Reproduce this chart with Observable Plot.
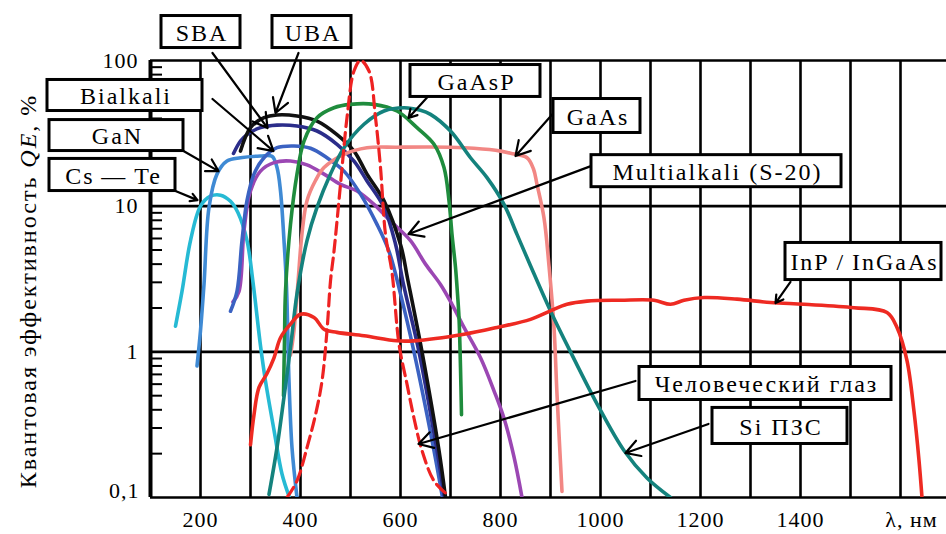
<!DOCTYPE html>
<html><head><meta charset="utf-8">
<script src="https://cdn.jsdelivr.net/npm/d3@7"></script>
<script src="https://cdn.jsdelivr.net/npm/@observablehq/plot@0.6"></script>
<style>body{margin:0;background:#fff}</style>
</head><body><div id="chart"></div>
<script>
// ---- data: [wavelength nm, QE %] ----
const csTe = [[150,1.5],[163,2.6],[180,5.8],[200,10],[220,11.7],[240,11.9],[260,10.8],[275,9],[293,5.8],[305,3],[320,1.1],[330,0.63],[347,0.29],[363,0.145],[378,0.1]];
const gaN = [[193,0.8],[200,1.4],[207,2.9],[217,9.8],[233,16.6],[253,20.4],[280,21.5],[320,22.1],[343,22],[353,18.4],[360,12.7],[367,5.8],[372,2.8],[377,0.63],[383,0.22],[393,0.1]];
const bialkali = [[260,1.9],[273,2.6],[283,5.8],[293,10.9],[307,16.6],[327,21.5],[353,25.2],[387,25.9],[420,25],[453,21.5],[487,17.4],[520,12.1],[553,7.5],[577,4.9],[600,2.5],[627,1.0],[667,0.21],[684,0.1]];
const sba = [[266,23],[280,28],[293,31],[320,34.6],[353,36],[393,35.5],[433,32.8],[473,26.6],[507,20.4],[533,14.9],[567,9.8],[590,5.5],[606,2.9],[637,1.0],[673,0.21],[688,0.1]];
const uba = [[280,23.9],[300,34.6],[327,40.5],[353,42.3],[393,41.6],[433,38.4],[473,31],[507,23.9],[533,16.6],[567,10.9],[601,5.3],[614,3.2],[643,1.0],[677,0.21],[690,0.1]];
const multialkali = [[265,2.2],[277,2.6],[287,6.8],[300,12.7],[320,17.4],[347,19.9],[380,20.4],[413,19.2],[447,16.6],[480,14.1],[513,12.7],[547,10.3],[580,7.9],[620,5.8],[650,4.0],[680,2.9],[703,2.12],[727,1.47],[760,0.91],[787,0.54],[807,0.35],[827,0.19],[843,0.1]];
const gaAsP = [[366,0.5],[368,1.2],[370,2.6],[380,7.5],[393,16.6],[407,28],[433,40.5],[467,47.4],[500,50],[547,50],[593,45],[633,34.6],[667,26.6],[687,18.4],[697,10.9],[703,6.4],[710,3.8],[714,2.5],[717,1.72],[720,0.78],[722,0.37]];
const siCCD = [[337,0.105],[353,0.22],[367,0.49],[380,1.07],[393,2.5],[413,5.8],[433,9.8],[460,16.6],[487,25.2],[527,36.5],[567,45],[607,47.4],[640,45.5],[660,42.7],[700,32.8],[740,21.5],[773,15.7],[807,10.3],[833,6.4],[860,3.9],[900,1.91],[940,1.0],[993,0.44],[1047,0.21],[1093,0.136],[1140,0.1]];
const gaAs = [[380,0.95],[387,1.4],[395,3],[403,6.5],[413,10.9],[430,15],[447,18.4],[487,22.7],[533,25.2],[593,25.4],[660,25.5],[727,25.2],[790,24.2],[820,23.1],[853,21.5],[866,18],[873,14.1],[887,8.3],[897,3.9],[907,1.47],[913,0.51],[923,0.11]];
const humanEye = [[373,0.1],[393,0.13],[413,0.22],[430,0.37],[443,0.63],[453,1.4],[460,3.07],[467,4.9],[480,14.1],[493,40.5],[507,84.7],[520,100],[537,84.7],[550,40.5],[560,18.4],[570,6.4],[583,3.5],[597,1.13],[613,0.6],[627,0.35],[643,0.21],[667,0.13],[693,0.105]];
const inGaAs = [[300,0.23],[307,0.37],[317,0.57],[333,0.71],[347,0.91],[360,1.25],[380,1.55],[400,1.81],[427,1.72],[447,1.43],[473,1.36],[527,1.29],[593,1.19],[627,1.19],[727,1.32],[793,1.47],[860,1.67],[900,1.91],[933,2.12],[973,2.23],[1040,2.26],[1107,2.26],[1140,2.12],[1167,2.26],[1207,2.36],[1273,2.3],[1340,2.18],[1407,2.12],[1507,2.01],[1573,1.86],[1593,1.47],[1613,0.87],[1627,0.39],[1637,0.18],[1643,0.1]];

// axes
const xTicks = [200,400,600,800,1000,1200,1400];
const xGrid = [200,300,400,500,600,700,800,900,1000,1100,1200,1300,1400,1500,1600];
const xUnitLabel = "λ, нм";
const yTicks = [0.1,1,10,100];
const yTickLabels = ["0,1","1","10","100"];
const yMinor = [2,3,4,5,6,7,8,9].flatMap(m => [0.1,1,10].map(d => m*d));

// annotations: box extents in data units and arrow from/to in data units
const annotations = [
  {label:"SBA", x1:122, x2:280, y1:121.8, y2:202},
  {label:"UBA", x1:344, x2:502, y1:121.8, y2:202},
  {label:"Bialkali", x1:-106, x2:204, y1:45, y2:73.5},
  {label:"GaN", x1:-102, x2:166, y1:23.9, y2:39},
  {label:"Cs\u2009\u2014\u2009Te", x1:-102, x2:150, y1:12.7, y2:21.1},
  {label:"GaAsP", x1:620, x2:880, y1:56.2, y2:93.1},
  {label:"GaAs", x1:906, x2:1080, y1:31.8, y2:54.4},
  {label:"Multialkali (S-20)", x1:982, x2:1482, y1:13.5, y2:22.4},
  {label:"InP\u2009/\u2009InGaAs", x1:1370, x2:1682, y1:3.11, y2:5.59},
  {label:"Человеческий глаз", x1:1078, x2:1582, y1:0.467, y2:0.787},
  {label:"Si ПЗС", x1:1224, x2:1494, y1:0.233, y2:0.412}
];
const arrows = [
  {x1:224, y1:112.6, x2:334, y2:34.4},
  {x1:396, y1:112.6, x2:350, y2:43.6},
  {x1:224, y1:54.4, x2:346, y2:23.9},
  {x1:166, y1:23.9, x2:236, y2:17.4},
  {x1:150, y1:12.7, x2:194, y2:11.0},
  {x1:654, y1:56.2, x2:616, y2:40.3},
  {x1:906, y1:43.6, x2:830, y2:22.1},
  {x1:982, y1:18.9, x2:616, y2:6.44},
  {x1:1380, y1:3.02, x2:1350, y2:2.16},
  {x1:1070, y1:0.631, x2:636, y2:0.233},
  {x1:1216, y1:0.320, x2:1050, y2:0.202}
];

const curves = [
  {data: csTe, color:"#26bad4"},
  {data: gaN, color:"#3f8ad4"},
  {data: multialkali, color:"#9b47b3"},
  {data: bialkali, color:"#3b62c2"},
  {data: sba, color:"#2b2d8a"},
  {data: uba, color:"#111111"},
  {data: gaAs, color:"#f28784"},
  {data: gaAsP, color:"#1f8c3d"},
  {data: siCCD, color:"#14827d"},
  {data: inGaAs, color:"#ee2a22"}
];

const FONT = "Liberation Serif";
const yMainIdx = [1, 2, 3];

const plot = Plot.plot({
  width: 946, height: 534,
  marginLeft: 150, marginRight: 0, marginTop: 60, marginBottom: 37,
  style: {fontFamily: FONT, fontSize: "22px", background: "white", overflow: "visible"},
  x: {type: "linear", domain: [100, 1692]},
  y: {type: "log", domain: [0.1, 100]},
  marks: [
    Plot.ruleX(xGrid, {stroke: "black", strokeWidth: 2.6}),
    Plot.ruleY(yTicks, {stroke: "black", strokeWidth: 2.6}),
    Plot.ruleX([100], {stroke: "black", strokeWidth: 4}),
    Plot.axisY(yMinor, {anchor: "left", tickSize: -12, strokeWidth: 2, tickFormat: () => "", label: null}),
    Plot.axisY(yMainIdx.map(i => yTicks[i]), {anchor: "left", tickSize: 0, tickPadding: 12, tickFormat: d => yTickLabels[yTicks.indexOf(d)], label: null, fontSize: 22, fontFamily: FONT}),
    Plot.axisY([yTicks[0]], {anchor: "left", tickSize: 0, tickPadding: 11, tickFormat: () => yTickLabels[0], label: null, fontSize: 22, fontFamily: FONT, dy: -7}),
    Plot.axisX(xTicks, {anchor: "bottom", tickSize: 0, tickPadding: 14, tickFormat: d => String(d), label: null, fontSize: 22, fontFamily: FONT}),
    Plot.axisX([1622], {anchor: "bottom", tickSize: 0, tickPadding: 14, tickFormat: () => xUnitLabel, label: null, fontSize: 22, fontFamily: FONT}),
    ...curves.map(c => Plot.line(c.data, {x: d => d[0], y: d => d[1], stroke: c.color, strokeWidth: 3.6, curve: "catmull-rom", clip: true})),
    Plot.line(humanEye, {x: d => d[0], y: d => d[1], stroke: "#ee2222", strokeWidth: 3.2, strokeDasharray: "12,6", curve: "catmull-rom", clip: true}),
    Plot.arrow(arrows, {x1: "x1", y1: "y1", x2: "x2", y2: "y2", stroke: "black", strokeWidth: 2.2, headLength: 11, bend: 0}),
    Plot.rect(annotations, {x1: "x1", x2: "x2", y1: "y1", y2: "y2", fill: "white", stroke: "black", strokeWidth: 3}),
    Plot.text(annotations, {x: d => (d.x1 + d.x2) / 2, y: d => Math.sqrt(d.y1 * d.y2), text: "label", fontSize: 24, fill: "black", dy: 1, dx: 1, fontFamily: FONT})
  ]
});

const svg = d3.select(plot);
svg.selectAll('g[aria-label="text"] text').style("letter-spacing", "2px");
svg.selectAll('g[aria-label="x-axis tick label"] text, g[aria-label="y-axis tick label"] text').style("letter-spacing", "1px");

const title = svg.append("text")
  .attr("transform", "translate(36,291) rotate(-90)")
  .attr("text-anchor", "middle")
  .attr("font-size", 24)
  .attr("font-family", FONT)
  .style("letter-spacing", "2px")
  .attr("fill", "black");
title.append("tspan").text("Квантовая эффективность ");
title.append("tspan").attr("font-style", "italic").text("QE");
title.append("tspan").text(", %");

document.getElementById("chart").appendChild(plot);
</script>
</body></html>
